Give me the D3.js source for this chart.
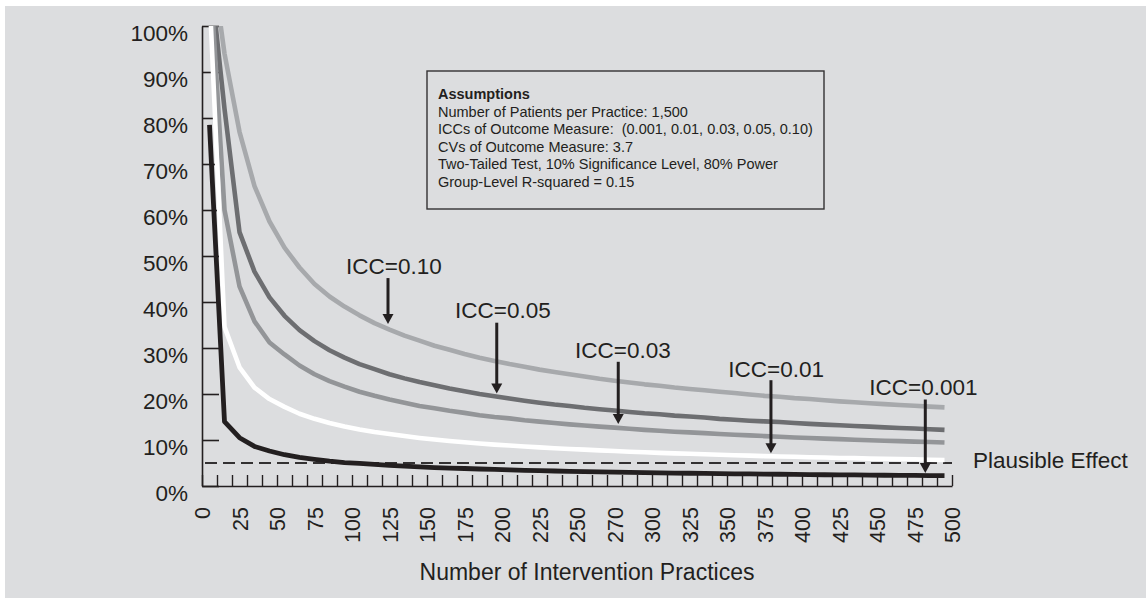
<!DOCTYPE html>
<html>
<head>
<meta charset="utf-8">
<script src="https://cdn.jsdelivr.net/npm/d3@7"></script>
<style>
  html, body { margin: 0; padding: 0; background: #ffffff; }
  svg { display: block; font-family: "Liberation Sans", Arial, Helvetica, sans-serif; }
  text { white-space: pre; }
</style>
</head>
<body>
<svg id="chart" width="1146" height="601"></svg>
<script>
// ---------------- DATA ----------------
const practices = [5,15,25,35,45,55,65,75,85,95,105,115,125,135,145,155,165,175,185,195,
  205,215,225,235,245,255,265,275,285,295,305,315,325,335,345,355,365,375,385,395,
  405,415,425,435,445,455,465,475,485,495];

const icc010 = [117.8,94,77,65.2,57.5,51.8,47.5,43.9,41.2,39.0,37.1,35.4,34.0,32.7,31.6,30.5,29.6,28.7,27.9,27.2,
  26.5,25.9,25.3,24.8,24.3,23.8,23.3,22.9,22.5,22.1,21.8,21.4,21.1,20.8,20.5,20.2,19.9,19.6,19.4,19.1,
  18.9,18.65,18.4,18.2,18.0,17.8,17.6,17.45,17.25,17.1];
const icc005 = [112.6,82,55.2,46.6,41.0,37.0,33.9,31.5,29.5,27.9,26.5,25.4,24.3,23.4,22.6,21.9,21.2,20.6,20.0,19.5,
  19.0,18.55,18.1,17.7,17.4,17.0,16.7,16.4,16.1,15.8,15.6,15.3,15.1,14.9,14.6,14.4,14.2,14.05,13.9,13.7,
  13.5,13.35,13.2,13.05,12.9,12.75,12.6,12.5,12.35,12.2];
const icc003 = [113.5,60,43.4,35.8,31.2,28.6,26.2,24.3,22.8,21.6,20.5,19.6,18.8,18.1,17.4,16.9,16.35,15.9,15.4,15.0,
  14.7,14.3,14.0,13.7,13.4,13.15,12.9,12.7,12.45,12.2,12.0,11.8,11.65,11.5,11.3,11.15,11.0,10.85,10.7,10.55,
  10.45,10.3,10.2,10.05,9.95,9.85,9.75,9.65,9.55,9.45];
const icc001 = [107,34.6,25.8,21.4,18.9,17.2,15.7,14.6,13.7,12.95,12.3,11.75,11.3,10.85,10.45,10.1,9.8,9.5,9.25,9.0,
  8.8,8.6,8.4,8.2,8.05,7.9,7.75,7.6,7.45,7.35,7.2,7.1,7.0,6.9,6.8,6.7,6.6,6.5,6.4,6.35,
  6.25,6.2,6.1,6.05,5.95,5.9,5.85,5.8,5.7,5.65];
const icc0001 = [78.5,14.0,10.5,8.6,7.6,6.8,6.2,5.8,5.4,5.1,4.9,4.7,4.5,4.3,4.15,4.0,3.9,3.8,3.7,3.6,
  3.5,3.4,3.33,3.26,3.19,3.13,3.07,3.02,2.96,2.91,2.86,2.82,2.77,2.73,2.69,2.65,2.62,2.58,2.55,2.52,
  2.48,2.45,2.43,2.4,2.37,2.34,2.32,2.29,2.27,2.25];

const seriesNames = ["ICC=0.10","ICC=0.05","ICC=0.03","ICC=0.01","ICC=0.001"];
const seriesValues = [icc010, icc005, icc003, icc001, icc0001];
const seriesColors = ["#a7a9ac","#6d6e71","#939598","#ffffff","#231f20"];

const plausibleEffect = 5;

const yTickValues = [0,10,20,30,40,50,60,70,80,90,100];
const xMinorTicks = [0,10,20,30,40,50,60,70,80,90,100,110,120,130,140,150,160,170,180,190,200,
  210,220,230,240,250,260,270,280,290,300,310,320,330,340,350,360,370,380,390,400,
  410,420,430,440,450,460,470,480,490,500];
const xLabelValues = [0,25,50,75,100,125,150,175,200,225,250,275,300,325,350,375,400,425,450,475,500];
const xLabelTexts = ["0","25","50","75","100","125","150","175","200","225","250","270","300","325","350","375","400","425","450","475","500"];

// annotation: label, arrow x, arrow top %, arrow tip %, text start x, text baseline %
const annLabels = ["ICC=0.10","ICC=0.05","ICC=0.03","ICC=0.01","ICC=0.001"];
const annArrowX = [124, 196.5, 277.5, 379.3, 482.2];
const annTop    = [45.2, 35.5, 27.0, 23.0, 18.8];
const annTip    = [35.2, 20.1, 13.5, 7.1, 2.8];
const annTextX  = [96, 168.7, 248.7, 350.9, 444.9];
const annTextY  = [46.1, 36.5, 27.8, 23.8, 19.8];

const assumptionTitle = "Assumptions";
const assumptionLines = [
  "Number of Patients per Practice: 1,500",
  "ICCs of Outcome Measure:  (0.001, 0.01, 0.03, 0.05, 0.10)",
  "CVs of Outcome Measure: 3.7",
  "Two-Tailed Test, 10% Significance Level, 80% Power",
  "Group-Level R-squared = 0.15"
];

// ---------------- DRAW ----------------
const svg = d3.select("#chart");
const ink = "#231f20";

svg.append("rect").attr("x", 5).attr("y", 6).attr("width", 1141).attr("height", 592)
  .attr("fill", "#dcdddf");

const x = d3.scaleLinear().domain([0, 500]).range([202, 952]);
const y = d3.scaleLinear().domain([0, 100]).range([486, 26]);

svg.append("clipPath").attr("id", "plotclip")
  .append("rect").attr("x", 202).attr("y", 26).attr("width", 760).attr("height", 470);

// Y axis
const yAxis = svg.append("g").attr("transform", `translate(${x(0)},0)`)
  .call(d3.axisLeft(y).tickValues(yTickValues).tickSize(-17).tickSizeOuter(0).tickPadding(14)
    .tickFormat(d => d + "%"));
yAxis.select(".domain").attr("stroke", ink).attr("stroke-width", 1.6);
yAxis.selectAll(".tick line").attr("stroke", ink).attr("stroke-width", 1.6);
yAxis.selectAll(".tick text").attr("fill", ink).attr("font-size", 22.5)
  .attr("font-family", "Liberation Sans, Arial, sans-serif").attr("dy", "0.64em");

// X axis minor ticks
const xAxis = svg.append("g").attr("transform", `translate(0,${y(0)})`)
  .call(d3.axisBottom(x).tickValues(xMinorTicks).tickSize(-11).tickSizeOuter(0).tickFormat(""));
xAxis.select(".domain").attr("stroke", ink).attr("stroke-width", 1.6);
xAxis.selectAll(".tick line").attr("stroke", ink).attr("stroke-width", 1.4);

// X axis labels
const xLab = svg.append("g").attr("transform", `translate(0,${y(0)})`)
  .call(d3.axisBottom(x).tickValues(xLabelValues).tickSize(0).tickSizeOuter(0)
    .tickFormat((d, i) => xLabelTexts[i]));
xLab.select(".domain").remove();
xLab.selectAll(".tick text")
  .attr("fill", ink).attr("font-size", 21.5)
  .attr("font-family", "Liberation Sans, Arial, sans-serif")
  .attr("transform", "rotate(-90)")
  .attr("text-anchor", "end")
  .attr("x", -21).attr("y", 0).attr("dy", "0.36em");

// axis title
svg.append("text").attr("x", 587).attr("y", 580).attr("text-anchor", "middle")
  .attr("font-size", 23).attr("fill", ink).text("Number of Intervention Practices");

// plausible effect dashed line
svg.append("line").attr("x1", x(2)).attr("x2", x(500)).attr("y1", y(plausibleEffect)).attr("y2", y(plausibleEffect))
  .attr("stroke", "#333132").attr("stroke-width", 1.8).attr("stroke-dasharray", "12,6");
svg.append("text").attr("x", 973).attr("y", y(plausibleEffect) + 4.5).attr("font-size", 22.5)
  .attr("fill", ink).text("Plausible Effect");

// curves
const line = d3.line().x((d, i) => x(practices[i])).y(d => y(d));
const lines = svg.append("g").attr("clip-path", "url(#plotclip)");
seriesValues.forEach((vals, k) => {
  lines.append("path").datum(vals)
    .attr("d", line)
    .attr("fill", "none")
    .attr("stroke", seriesColors[k])
    .attr("stroke-width", k === 4 ? 4.8 : 4.6)
    .attr("stroke-linejoin", "round");
});

// annotations
const ann = svg.append("g");
annLabels.forEach((lab, i) => {
  ann.append("text").attr("x", x(annTextX[i])).attr("y", y(annTextY[i]))
    .attr("font-size", 22.5).attr("fill", ink).text(lab);
  const ax = x(annArrowX[i]), tipY = y(annTip[i]), topY = y(annTop[i]);
  ann.append("line").attr("x1", ax).attr("x2", ax).attr("y1", topY).attr("y2", tipY - 8)
    .attr("stroke", ink).attr("stroke-width", 3);
  ann.append("path")
    .attr("d", `M${ax - 5.5},${tipY - 10} L${ax + 5.5},${tipY - 10} L${ax},${tipY} Z`)
    .attr("fill", ink);
});

// assumptions box
const box = svg.append("g");
box.append("rect").attr("x", 427).attr("y", 71).attr("width", 397).attr("height", 138)
  .attr("fill", "none").attr("stroke", "#333132").attr("stroke-width", 1.4);
box.append("text").attr("x", 438).attr("y", 98.5).attr("font-size", 14.5).attr("font-weight", "bold")
  .attr("fill", ink).text(assumptionTitle);
assumptionLines.forEach((t, i) => {
  box.append("text").attr("x", 438).attr("y", 116.5 + i * 17.6).attr("font-size", 14.5)
    .attr("fill", ink).text(t);
});
</script>
</body>
</html>
